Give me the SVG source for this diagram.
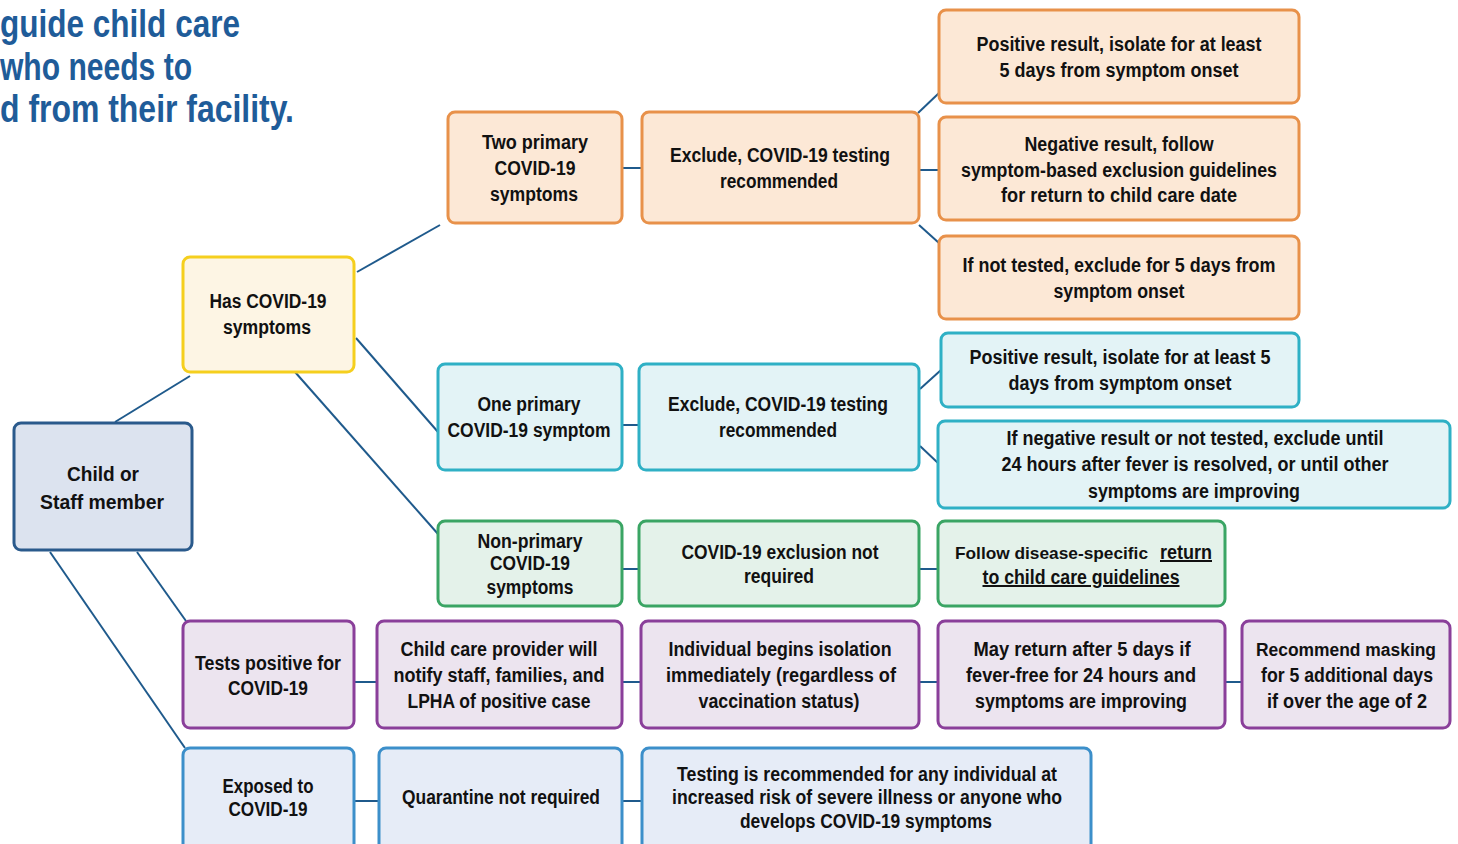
<svg xmlns="http://www.w3.org/2000/svg" width="1458" height="844" viewBox="0 0 1458 844">
<style>
text{font-family:"Liberation Sans Narrow","Liberation Sans",Arial,sans-serif;font-weight:bold;font-size:20px;fill:#111;text-anchor:middle}
.h{font-size:38px;fill:#1f5c99;text-anchor:start}
.s{text-anchor:start}
.sm{font-size:18px}
.xs{font-size:17px}
.b{stroke-width:3;rx:7}
.root{fill:#dce3ef;stroke:#2a5a8c}
.yel{fill:#fdf5e4;stroke:#f5cf1e}
.ora{fill:#fce8d6;stroke:#e8914a}
.tea{fill:#e3f3f6;stroke:#2fb0c5}
.gre{fill:#e4f2ea;stroke:#3aa564}
.pur{fill:#ece4ef;stroke:#8a3f9a}
.blu{fill:#e6ecf7;stroke:#3c8fca}
#connectors line{stroke:#1f5a8c;stroke-width:2}
.u{text-decoration:underline}
</style>
<rect width="1458" height="844" fill="#fff"/>
<g id="heading">
<text class="h" x="0" y="37" textLength="240" lengthAdjust="spacingAndGlyphs">guide child care</text>
<text class="h" x="0" y="80" textLength="192" lengthAdjust="spacingAndGlyphs">who needs to</text>
<text class="h" x="0" y="122" textLength="294" lengthAdjust="spacingAndGlyphs">d from their facility.</text>
</g>
<g id="connectors">
<line x1="115" y1="422" x2="190" y2="376"/>
<line x1="50" y1="552" x2="185" y2="748"/>
<line x1="137" y1="552" x2="186" y2="621"/>
<line x1="357" y1="272" x2="440" y2="225"/>
<line x1="356" y1="338" x2="438" y2="432"/>
<line x1="295" y1="372" x2="438" y2="534"/>
<line x1="622" y1="168" x2="642" y2="168"/>
<line x1="918" y1="113" x2="939" y2="93"/>
<line x1="919" y1="170" x2="939" y2="170"/>
<line x1="919" y1="225" x2="939" y2="243"/>
<line x1="622" y1="425" x2="639" y2="425"/>
<line x1="920" y1="389" x2="941" y2="370"/>
<line x1="920" y1="446" x2="938" y2="463"/>
<line x1="622" y1="569" x2="639" y2="569"/>
<line x1="919" y1="569" x2="938" y2="569"/>
<line x1="354" y1="682" x2="377" y2="682"/>
<line x1="622" y1="682" x2="641" y2="682"/>
<line x1="919" y1="682" x2="938" y2="682"/>
<line x1="1225" y1="682" x2="1242" y2="682"/>
<line x1="354" y1="801" x2="379" y2="801"/>
<line x1="622" y1="801" x2="642" y2="801"/>
</g>
<g id="root"><rect class="b root" x="14" y="423" width="178" height="127"/>
<text x="103" y="481" textLength="72" lengthAdjust="spacingAndGlyphs">Child or</text>
<text x="102" y="509" textLength="124" lengthAdjust="spacingAndGlyphs">Staff member</text></g>
<g id="has-symptoms"><rect class="b yel" x="183" y="257" width="171" height="115"/>
<text x="268" y="308" textLength="117" lengthAdjust="spacingAndGlyphs">Has COVID-19</text>
<text x="267" y="334" textLength="88" lengthAdjust="spacingAndGlyphs">symptoms</text></g>
<g id="two-primary"><rect class="b ora" x="448" y="112" width="174" height="111"/>
<text x="535" y="149" textLength="106" lengthAdjust="spacingAndGlyphs">Two primary</text>
<text x="535" y="175" textLength="81" lengthAdjust="spacingAndGlyphs">COVID-19</text>
<text x="534" y="201" textLength="88" lengthAdjust="spacingAndGlyphs">symptoms</text></g>
<g id="exclude-orange"><rect class="b ora" x="642" y="112" width="277" height="111"/>
<text x="780" y="162" textLength="220" lengthAdjust="spacingAndGlyphs">Exclude, COVID-19 testing</text>
<text x="779" y="188" textLength="118" lengthAdjust="spacingAndGlyphs">recommended</text></g>
<g id="orange-positive"><rect class="b ora" x="939" y="10" width="360" height="93"/>
<text x="1119" y="51" textLength="285" lengthAdjust="spacingAndGlyphs">Positive result, isolate for at least</text>
<text x="1119" y="77" textLength="239" lengthAdjust="spacingAndGlyphs">5 days from symptom onset</text></g>
<g id="orange-negative"><rect class="b ora" x="939" y="117" width="360" height="103"/>
<text x="1119" y="151" textLength="189" lengthAdjust="spacingAndGlyphs">Negative result, follow</text>
<text x="1119" y="177" textLength="316" lengthAdjust="spacingAndGlyphs">symptom-based exclusion guidelines</text>
<text x="1119" y="202" textLength="236" lengthAdjust="spacingAndGlyphs">for return to child care date</text></g>
<g id="orange-not-tested"><rect class="b ora" x="939" y="236" width="360" height="83"/>
<text x="1119" y="272" textLength="313" lengthAdjust="spacingAndGlyphs">If not tested, exclude for 5 days from</text>
<text x="1119" y="298" textLength="131" lengthAdjust="spacingAndGlyphs">symptom onset</text></g>
<g id="one-primary"><rect class="b tea" x="438" y="364" width="184" height="106"/>
<text x="529" y="411" textLength="103" lengthAdjust="spacingAndGlyphs">One primary</text>
<text x="529" y="437" textLength="163" lengthAdjust="spacingAndGlyphs">COVID-19 symptom</text></g>
<g id="exclude-teal"><rect class="b tea" x="639" y="364" width="280" height="106"/>
<text x="778" y="411" textLength="220" lengthAdjust="spacingAndGlyphs">Exclude, COVID-19 testing</text>
<text x="778" y="437" textLength="118" lengthAdjust="spacingAndGlyphs">recommended</text></g>
<g id="teal-positive"><rect class="b tea" x="941" y="333" width="358" height="74"/>
<text x="1120" y="364" textLength="301" lengthAdjust="spacingAndGlyphs">Positive result, isolate for at least 5</text>
<text x="1120" y="390" textLength="223" lengthAdjust="spacingAndGlyphs">days from symptom onset</text></g>
<g id="teal-negative"><rect class="b tea" x="938" y="421" width="512" height="87"/>
<text x="1195" y="445" textLength="377" lengthAdjust="spacingAndGlyphs">If negative result or not tested, exclude until</text>
<text x="1195" y="471" textLength="387" lengthAdjust="spacingAndGlyphs">24 hours after fever is resolved, or until other</text>
<text x="1194" y="498" textLength="212" lengthAdjust="spacingAndGlyphs">symptoms are improving</text></g>
<g id="non-primary"><rect class="b gre" x="438" y="521" width="184" height="85"/>
<text x="530" y="548" textLength="105" lengthAdjust="spacingAndGlyphs">Non-primary</text>
<text x="530" y="570" textLength="80" lengthAdjust="spacingAndGlyphs">COVID-19</text>
<text x="530" y="594" textLength="87" lengthAdjust="spacingAndGlyphs">symptoms</text></g>
<g id="not-required"><rect class="b gre" x="639" y="521" width="280" height="85"/>
<text x="780" y="559" textLength="197" lengthAdjust="spacingAndGlyphs">COVID-19 exclusion not</text>
<text x="779" y="583" textLength="70" lengthAdjust="spacingAndGlyphs">required</text></g>
<g id="disease-specific"><rect class="b gre" x="938" y="521" width="287" height="85"/>
<text class="s xs" x="955" y="559" textLength="193" lengthAdjust="spacingAndGlyphs">Follow disease-specific</text>
<text class="s u" x="1160" y="559" textLength="52" lengthAdjust="spacingAndGlyphs">return</text>
<text x="1081" y="584" class="u" textLength="197" lengthAdjust="spacingAndGlyphs">to child care guidelines</text></g>
<g id="tests-positive"><rect class="b pur" x="183" y="621" width="171" height="107"/>
<text x="268" y="670" textLength="146" lengthAdjust="spacingAndGlyphs">Tests positive for</text>
<text x="268" y="695" textLength="80" lengthAdjust="spacingAndGlyphs">COVID-19</text></g>
<g id="notify"><rect class="b pur" x="377" y="621" width="245" height="107"/>
<text x="499" y="656" textLength="197" lengthAdjust="spacingAndGlyphs">Child care provider will</text>
<text x="499" y="682" textLength="211" lengthAdjust="spacingAndGlyphs">notify staff, families, and</text>
<text x="499" y="708" textLength="183" lengthAdjust="spacingAndGlyphs">LPHA of positive case</text></g>
<g id="isolation"><rect class="b pur" x="641" y="621" width="278" height="107"/>
<text x="780" y="656" textLength="223" lengthAdjust="spacingAndGlyphs">Individual begins isolation</text>
<text x="781" y="682" textLength="230" lengthAdjust="spacingAndGlyphs">immediately (regardless of</text>
<text x="779" y="708" textLength="161" lengthAdjust="spacingAndGlyphs">vaccination status)</text></g>
<g id="may-return"><rect class="b pur" x="938" y="621" width="287" height="107"/>
<text x="1082" y="656" textLength="217" lengthAdjust="spacingAndGlyphs">May return after 5 days if</text>
<text x="1081" y="682" textLength="230" lengthAdjust="spacingAndGlyphs">fever-free for 24 hours and</text>
<text x="1081" y="708" textLength="212" lengthAdjust="spacingAndGlyphs">symptoms are improving</text></g>
<g id="masking"><rect class="b pur" x="1242" y="621" width="208" height="107"/>
<text class="sm" x="1346" y="656" textLength="180" lengthAdjust="spacingAndGlyphs">Recommend masking</text>
<text x="1347" y="682" textLength="172" lengthAdjust="spacingAndGlyphs">for 5 additional days</text>
<text x="1347" y="708" textLength="160" lengthAdjust="spacingAndGlyphs">if over the age of 2</text></g>
<g id="exposed"><rect class="b blu" x="183" y="748" width="171" height="104"/>
<text x="268" y="793" textLength="91" lengthAdjust="spacingAndGlyphs">Exposed to</text>
<text x="268" y="816" textLength="79" lengthAdjust="spacingAndGlyphs">COVID-19</text></g>
<g id="quarantine"><rect class="b blu" x="379" y="748" width="243" height="104"/>
<text x="501" y="804" textLength="198" lengthAdjust="spacingAndGlyphs">Quarantine not required</text></g>
<g id="testing"><rect class="b blu" x="642" y="748" width="449" height="104"/>
<text x="867" y="781" textLength="380" lengthAdjust="spacingAndGlyphs">Testing is recommended for any individual at</text>
<text x="867" y="804" textLength="390" lengthAdjust="spacingAndGlyphs">increased risk of severe illness or anyone who</text>
<text x="866" y="828" textLength="252" lengthAdjust="spacingAndGlyphs">develops COVID-19 symptoms</text></g>
</svg>
